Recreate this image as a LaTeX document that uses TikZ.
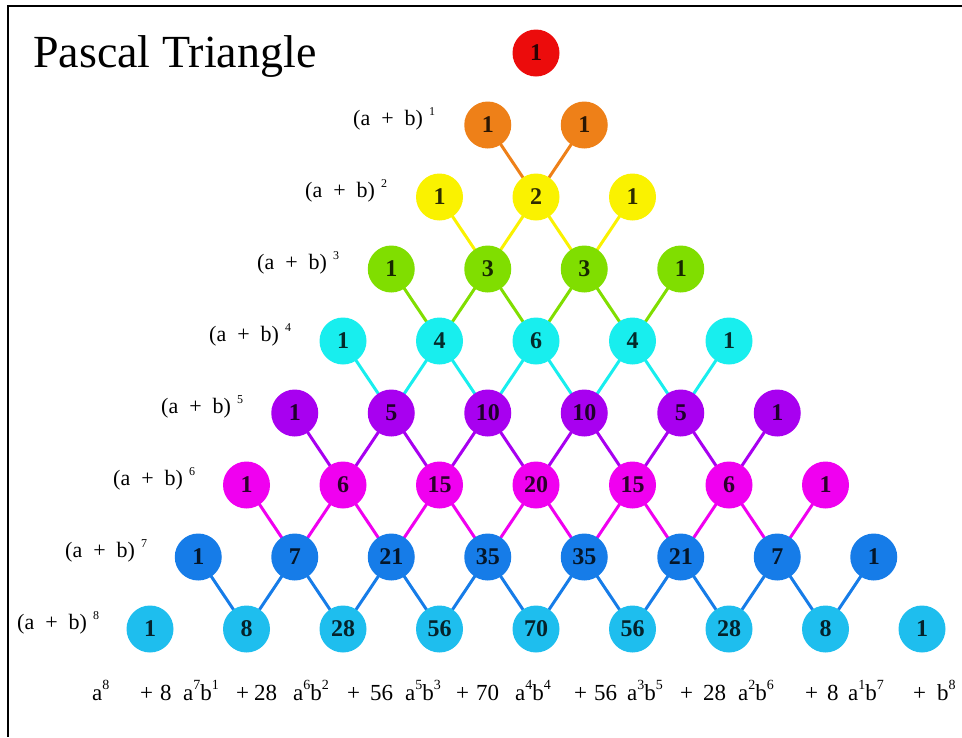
\documentclass[tikz,border=0pt]{standalone}
\usepackage{fontspec}
\setmainfont{Liberation Serif}
\pgfdeclarelayer{bg}
\pgfsetlayers{bg,main}
\definecolor{row0}{RGB}{236,12,12}
\definecolor{row1}{RGB}{238,128,24}
\definecolor{row2}{RGB}{250,242,0}
\definecolor{row3}{RGB}{128,222,0}
\definecolor{row4}{RGB}{24,238,238}
\definecolor{row5}{RGB}{168,0,240}
\definecolor{row6}{RGB}{240,0,240}
\definecolor{row7}{RGB}{22,124,232}
\definecolor{row8}{RGB}{30,190,238}
\newcommand\mysup[1]{\raisebox{0.45em}{\fontsize{14}{14}\selectfont #1}}
\begin{document}
\begin{tikzpicture}[x=1pt,y=-1pt,
  ball/.style={circle, minimum size=47pt, inner sep=0pt, font=\fontsize{24}{24}\selectfont\bfseries},
  link/.style={line width=3pt},
  lbl/.style={inner sep=0pt, anchor=base west, font=\fontsize{22}{22}\selectfont},
  term/.style={inner sep=0pt, anchor=base west, font=\fontsize{23}{23}\selectfont},
  titletext/.style={inner sep=0pt, anchor=base west, font=\fontsize{46}{46}\selectfont},
  frame/.style={line width=2pt}]
\useasboundingbox (0,0) rectangle (962,737);
\coordinate (ftl) at (8,5.5);
\coordinate (ftr) at (962,5.5);
\coordinate (fbl) at (8,737);
\draw[frame] (ftr) -- (ftl) -- (fbl);
\node[titletext] (title) at (33,67) {Pascal Triangle};
% balls
\foreach \n/\vals in {0/{1},1/{1,1},2/{1,2,1},3/{1,3,3,1},4/{1,4,6,4,1},5/{1,5,10,10,5,1},6/{1,6,15,20,15,6,1},7/{1,7,21,35,35,21,7,1},8/{1,8,28,56,70,56,28,8,1}}{
  \foreach \v [count=\k from 0] in \vals {
    \node[ball, fill=row\n, text=row\n!18!black] (r\n-\k) at ({536+96.5*(\k-\n/2)}, {53+72*\n}) {\v};
  }
}
% links
\begin{pgfonlayer}{bg}
\foreach \n in {2,...,8}{
  \pgfmathtruncatemacro\m{\n-1}
  \foreach \k in {1,...,\m}{
    \pgfmathtruncatemacro\j{\k-1}
    \draw[link, draw=row\m] (r\m-\j.center) -- (r\n-\k.center) -- (r\m-\k.center);
  }
}
\end{pgfonlayer}
% row labels
\foreach \n in {1,...,8}{
  \node[lbl] (L\n) at ({353-48*(\n-1)}, {53+72*\n}) {(a\hspace{0.5em}+\hspace{0.5em}b)\hspace{6pt}\raisebox{0.42em}{\fontsize{12}{12}\selectfont\n}};
}
% expansion
\node[term] (m0) at (92,700) {a\mysup{8}};
\foreach \i/\px/\c/\cx/\mx/\mono in {1/140/8/160/183/{a\mysup{7}b\mysup{1}},2/236/28/254/293/{a\mysup{6}b\mysup{2}},3/347/56/370/405/{a\mysup{5}b\mysup{3}},4/456/70/476/515/{a\mysup{4}b\mysup{4}},5/574/56/594/627/{a\mysup{3}b\mysup{5}},6/680/28/703/738/{a\mysup{2}b\mysup{6}},7/805/8/827/848/{a\mysup{1}b\mysup{7}}}{
  \node[term] (p\i) at (\px,700) {+};
  \node[term] (c\i) at (\cx,700) {\c};
  \node[term] (m\i) at (\mx,700) {\mono};
}
\node[term] (p8) at (913,700) {+};
\node[term] (m8) at (937,700) {b\mysup{8}};
\end{tikzpicture}
\end{document}
